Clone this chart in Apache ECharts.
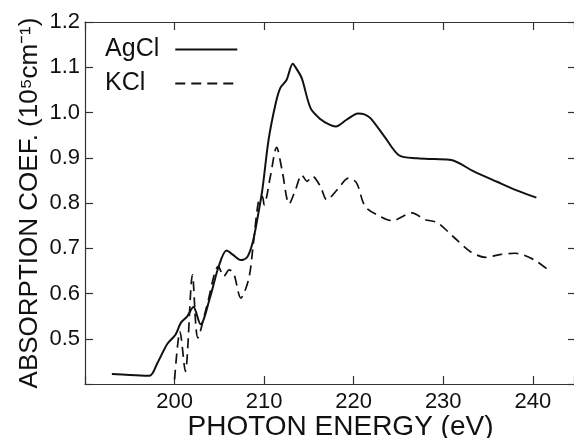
<!DOCTYPE html>
<html>
<head>
<meta charset="utf-8">
<script src="https://cdn.jsdelivr.net/npm/echarts@6/dist/echarts.min.js"></script>
<style>
html,body{margin:0;padding:0;background:#fff;}
#chart{width:574px;height:438px;}
</style>
</head>
<body>
<div id="chart"></div>
<script>
// Data
var seriesNames = ['AgCl', 'KCl'];
var agclEnergy = [193.0,195.0,197.2,198.1,199.2,200.1,200.7,201.4,202.1,202.9,204.0,204.9,205.8,206.5,207.4,208.1,208.7,209.2,209.8,210.5,211.3,211.8,212.5,213.2,213.6,214.2,215.2,216.3,217.3,218.0,219.2,220.5,221.2,221.9,223.5,225.1,227.1,229.0,230.9,233.4,236.0,238.2,240.4];
var agclValue  = [0.422,0.420,0.418,0.447,0.489,0.509,0.535,0.549,0.570,0.532,0.594,0.658,0.695,0.686,0.674,0.680,0.711,0.760,0.829,0.940,1.021,1.054,1.072,1.108,1.097,1.076,1.009,0.985,0.973,0.969,0.984,0.998,0.996,0.987,0.945,0.905,0.899,0.897,0.895,0.870,0.847,0.828,0.812];
var kclEnergy = [200.0,200.6,201.2,202.0,202.6,203.6,204.9,205.5,206.1,206.6,207.4,208.3,208.8,209.4,209.8,210.0,210.7,211.4,212.0,212.8,213.5,214.2,214.8,215.4,216.3,217.0,218.2,219.4,220.3,221.3,223.0,224.3,226.5,228.0,229.3,231.1,233.0,234.7,236.3,238.0,240.1,241.9];
var kclValue  = [0.410,0.516,0.428,0.641,0.502,0.572,0.660,0.638,0.652,0.645,0.590,0.634,0.711,0.807,0.814,0.796,0.859,0.923,0.873,0.798,0.829,0.862,0.848,0.859,0.836,0.807,0.830,0.855,0.845,0.792,0.770,0.761,0.778,0.763,0.757,0.726,0.693,0.680,0.686,0.689,0.675,0.649];
var xTickLabels = ['200','210','220','230','240'];
var yTickLabels = ['0.5','0.6','0.7','0.8','0.9','1.0','1.1','1.2'];

function pairs(xs, ys){ return xs.map(function(x,i){ return [x, ys[i]]; }); }

var FONT = 'Liberation Sans';
var chart = echarts.init(document.getElementById('chart'), null, {renderer:'canvas'});
var axisCol = '#333';

chart.setOption({
  animation: false,
  backgroundColor: '#fff',
  grid: {left: 85, right: 0, top: 22, bottom: 54, containLabel: false, outerBoundsMode: 'none'},
  legend: {
    orient: 'vertical', left: 100, top: 32, align: 'right',
    itemWidth: 62, itemHeight: 14, itemGap: 9,
    itemStyle: {opacity: 0},
    textStyle: {fontFamily: FONT, fontSize: 25, color: '#111', lineHeight: 25},
    data: [
      {name: seriesNames[0], textStyle: {padding: [0, 11, 0, 0]}},
      {name: seriesNames[1], textStyle: {padding: [0, 25, 0, 0]}}
    ]
  },
  xAxis: [{
    type: 'value', min: 190, max: 244.6, interval: 10,
    name: 'PHOTON ENERGY (eV)', nameLocation: 'middle', nameGap: 29, nameMoveOverlap: false,
    nameTextStyle: {fontFamily: FONT, fontSize: 28, color: '#111', padding: [0,0,0,22]},
    axisLine: {show: true, lineStyle: {color: axisCol, width: 1.2}},
    axisTick: {show: true, inside: true, length: 8, lineStyle: {color: axisCol, width: 1.2}},
    axisLabel: {fontFamily: FONT, fontSize: 22, color: '#111', margin: 7,
      formatter: function(v){ var s = String(Math.round(v)); return (xTickLabels.indexOf(s) >= 0 && Math.abs(v-Math.round(v))<1e-6) ? s : ''; }},
    splitLine: {show: false}
  }, {
    type: 'value', position: 'top', min: 190, max: 244.6, interval: 10,
    axisLine: {show: true, lineStyle: {color: axisCol, width: 1.2}},
    axisTick: {show: true, inside: true, length: 8, lineStyle: {color: axisCol, width: 1.2}},
    axisLabel: {show: false}, splitLine: {show: false}
  }],
  yAxis: [{
    type: 'value', min: 0.4, max: 1.2, interval: 0.1,
    name: 'ABSORPTION COEF. (10\u2075cm\u207B\u00B9)', nameLocation: 'middle', nameGap: 42, nameRotate: 90, nameMoveOverlap: false,
    nameTextStyle: {fontFamily: FONT, fontSize: 26, color: '#111'},
    axisLine: {show: true, lineStyle: {color: axisCol, width: 1.2}},
    axisTick: {show: true, inside: true, length: 8, lineStyle: {color: axisCol, width: 1.2}},
    axisLabel: {fontFamily: FONT, fontSize: 22, color: '#111', margin: 5,
      formatter: function(v){ var s = v.toFixed(1); return yTickLabels.indexOf(s) >= 0 ? s : ''; }},
    splitLine: {show: false}
  }, {
    type: 'value', position: 'right', min: 0.4, max: 1.2, interval: 0.1,
    axisLine: {show: false},
    axisTick: {show: true, inside: true, length: 6, lineStyle: {color: axisCol, width: 1.2}},
    axisLabel: {show: false}, splitLine: {show: false}
  }],
  series: [{
    name: seriesNames[0], type: 'line', showSymbol: false, symbol: 'none', smooth: 0.3,
    data: pairs(agclEnergy, agclValue),
    lineStyle: {color: '#111', width: 2, type: 'solid'}, itemStyle: {color: '#111'}
  }, {
    name: seriesNames[1], type: 'line', showSymbol: false, symbol: 'none', smooth: 0.3,
    data: pairs(kclEnergy, kclValue),
    lineStyle: {color: '#111', width: 1.7, type: [10, 6]}, itemStyle: {color: '#111'}
  }]
});
</script>
</body>
</html>
